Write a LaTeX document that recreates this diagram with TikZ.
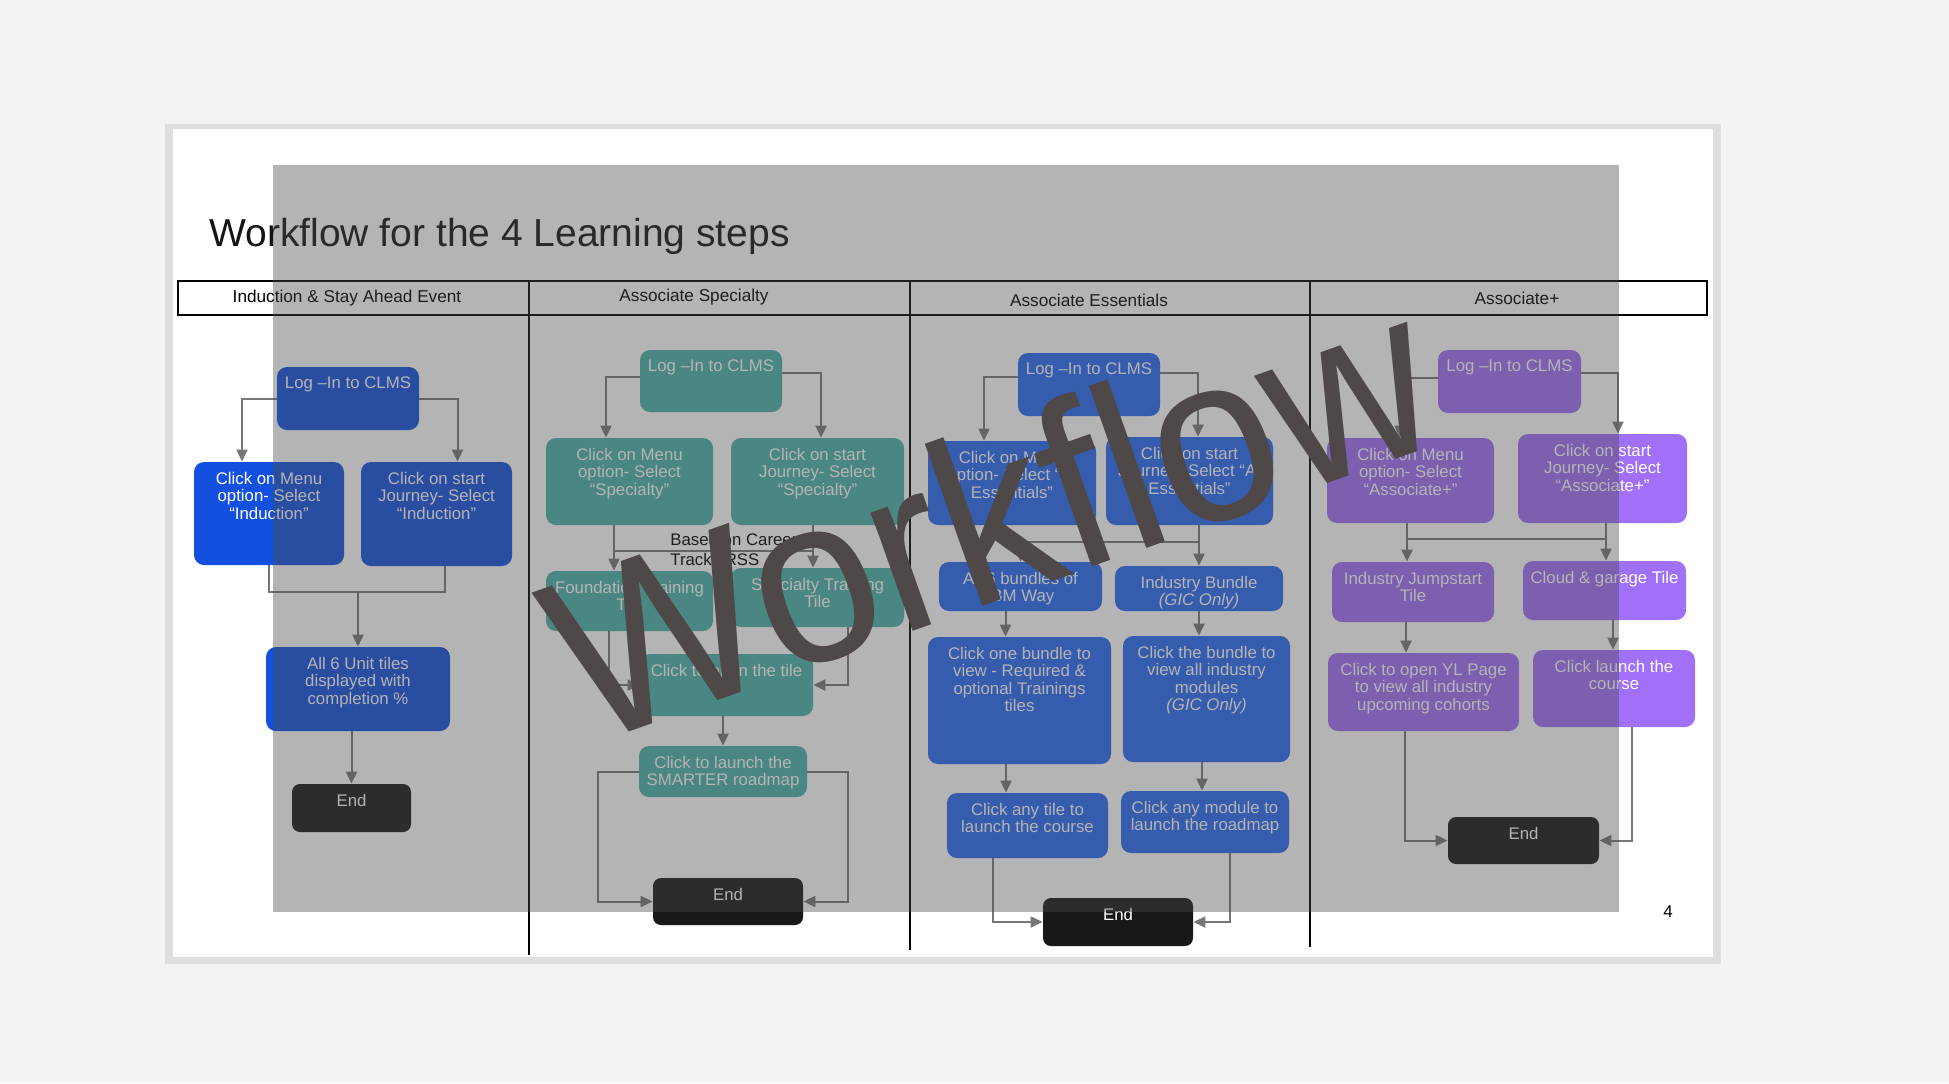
\documentclass[tikz,border=0pt]{standalone}
\usepackage{fontspec}
\setmainfont{Liberation Sans}
\usetikzlibrary{arrows.meta}
\definecolor{bgray}{HTML}{F3F3F3}
\definecolor{framegray}{HTML}{DEDEDE}
\definecolor{blueA}{HTML}{1450E0}
\definecolor{blueB}{HTML}{2A6AF5}
\definecolor{tealA}{HTML}{4DB3AA}
\definecolor{purpA}{HTML}{A070F8}
\definecolor{endgray}{HTML}{181818}
\definecolor{linkgray}{HTML}{777777}
\definecolor{ovl}{RGB}{73,73,73}
\definecolor{wmark}{HTML}{4E4848}
\tikzset{
    sz/.style 2 args={minimum width=#1*0.5pt, minimum height=#2*0.5pt},
    tile/.style={rectangle, rounded corners=5pt, inner sep=0pt},
    endbox/.style={tile, fill=endgray, rounded corners=4pt},
    tiletxt/.style={anchor=north, inner xsep=0pt, inner ysep=5pt, align=center, text=white, font=\fontsize{8.4pt}{8.8pt}\selectfont},
    lanehead/.style={inner sep=0pt, font=\fontsize{8.6pt}{10pt}\selectfont},
    notetxt/.style={inner sep=0pt, align=left, font=\fontsize{8.4pt}{10pt}\selectfont},
    link/.style={draw=linkgray, line width=1pt},
    linkarr/.style={link, -{Triangle[length=6pt,width=5.5pt]}}
}

\begin{document}
\begin{tikzpicture}[x=0.5pt, y=-0.5pt]
    \useasboundingbox (0,0) rectangle (1949,1083);
    \fill[bgray] (0,0) rectangle (1949,1083);
    \fill[framegray] (165,124) rectangle (1721,964);
    \fill[white] (173,129) rectangle (1713,957);

    % title and lanes
    \node[anchor=base west, inner sep=0pt, text=black!92, font=\fontsize{19.5pt}{24pt}\selectfont] (title) at (209,246) {Workflow for the 4 Learning steps};
    \draw[line width=0.8pt] (178,281) rectangle (1707,315);
    \draw[line width=0.8pt] (529,281) -- (529,955);
    \draw[line width=0.8pt] (910,281) -- (910,950);
    \draw[line width=0.8pt] (1310,281) -- (1310,947);
    \node[lanehead] (h1) at (347,298) {Induction \& Stay Ahead Event};
    \node[lanehead] (h2) at (694,297) {Associate Specialty};
    \node[lanehead] (h3) at (1089,300) {Associate Essentials};
    \node[lanehead] (h4) at (1517,298) {Associate+};

    % Induction
    \node[tile, fill=blueA, sz={142}{63}, label={[tiletxt, name=c1logt]north:{Log –In to CLMS}}] (c1log) at (348,398.5) {};
    \node[tile, fill=blueA, sz={150}{103}, label={[tiletxt, name=c1menut]north:{Click on Menu\\option- Select\\“Induction”}}] (c1menu) at (269,513.5) {};
    \node[tile, fill=blueA, sz={151}{104}, label={[tiletxt, name=c1startt]north:{Click on start\\Journey- Select\\“Induction”}}] (c1start) at (436.5,514) {};
    \node[tile, fill=blueA, sz={184}{84}, label={[tiletxt, name=c1unitst]north:{All 6 Unit tiles\\displayed with\\completion \%}}] (c1units) at (358,689) {};
    \node[endbox, sz={119}{48}, label={[tiletxt, name=c1endt]north:{End}}] (c1end) at (351.5,808) {};
    \draw[linkarr] (c1log.west) -| ([xshift=-13.5pt]c1menu.north);
    \draw[linkarr] (c1log.east) -| ([xshift=10.5pt]c1start.north);
    \coordinate (c1j) at (358,592);
    \draw[link] (c1menu.south) |- (c1j) -| ([xshift=4pt]c1start.south);
    \draw[linkarr] (c1j) -- (c1units);
    \draw[linkarr] (c1units.south -| c1end.north) -- (c1end.north);

    % Associate Specialty
    \node[tile, fill=tealA, sz={142}{62}, label={[tiletxt, name=c2logt]north:{Log –In to CLMS}}] (c2log) at (711,381) {};
    \node[tile, fill=tealA, sz={167}{87}, label={[tiletxt, name=c2menut]north:{Click on Menu\\option- Select\\“Specialty”}}] (c2menu) at (629.5,481.5) {};
    \node[tile, fill=tealA, sz={173}{87}, label={[tiletxt, name=c2startt]north:{Click on start\\Journey- Select\\“Specialty”}}] (c2start) at (817.5,481.5) {};
    \node[tile, fill=tealA, sz={167}{60}, label={[tiletxt, name=c2foundt]north:{Foundation Training\\Tile}}] (c2found) at (629.5,601) {};
    \node[tile, fill=tealA, sz={173}{59}, label={[tiletxt, name=c2spect]north:{Specialty Training\\Tile}}] (c2spec) at (817.5,597.5) {};
    \node[tile, fill=tealA, sz={173}{62}, label={[tiletxt, name=c2tilet]north:{Click to open the tile}}] (c2tile) at (726.5,685) {};
    \node[tile, fill=tealA, sz={168}{51}, label={[tiletxt, name=c2roadt]north:{Click to launch the\\SMARTER roadmap}}] (c2road) at (723,771.5) {};
    \node[endbox, sz={150}{47}, label={[tiletxt, name=c2endt]north:{End}}] (c2end) at (728,901.5) {};
    \node[notetxt, anchor=north west] (c2note) at (670,533) {Based on Career\\Track/JRSS};
    \draw[linkarr] ([yshift=2pt]c2log.west) -| ([xshift=-11.75pt]c2menu.north);
    \draw[linkarr] ([yshift=4pt]c2log.east) -| ([xshift=1.75pt]c2start.north);
    \draw[linkarr] ([xshift=-7.75pt]c2menu.south) -- ([xshift=-7.75pt]c2found.north);
    \draw[linkarr] ([xshift=-2.25pt]c2start.south) -- ([xshift=-2.25pt]c2spec.north);
    \coordinate (c2j) at (614,551);
    \draw[link] (c2j) -- ([xshift=-2.25pt]c2spec.north |- c2j);
    \draw[linkarr] ([xshift=-10.25pt]c2found.south) |- (c2tile.west);
    \draw[linkarr] ([xshift=15.25pt]c2spec.south) |- (c2tile.east);
    \draw[linkarr] (c2tile.south -| c2road.north) -- (c2road.north);
    \draw[linkarr] (c2road.west) -- ++(-41,0) |- (c2end.west);
    \draw[linkarr] (c2road.east) -- ++(41,0) |- (c2end.east);

    % Associate Essentials
    \node[tile, fill=blueB, sz={142}{63}, label={[tiletxt, name=c3logt]north:{Log –In to CLMS}}] (c3log) at (1089,384.5) {};
    \node[tile, fill=blueB, sz={168}{84}, label={[tiletxt, name=c3menut]north:{Click on Menu\\option- Select “A.\\Essentials”}}] (c3menu) at (1012,483) {};
    \node[tile, fill=blueB, sz={167}{88}, label={[tiletxt, name=c3startt]north:{Click on start\\Journey- Select “A.\\Essentials”}}] (c3start) at (1189.5,481) {};
    \node[tile, fill=blueB, sz={163}{49}, label={[tiletxt, name=c3ibmt]north:{All 6 bundles of\\IBM Way}}] (c3ibm) at (1020.5,586.5) {};
    \node[tile, fill=blueB, sz={168}{45}, label={[tiletxt, name=c3indt]north:{Industry Bundle\\\textit{(GIC Only)}}}] (c3ind) at (1199,588.5) {};
    \node[tile, fill=blueB, sz={183}{127}, label={[tiletxt, name=c3onet]north:{Click one bundle to\\view - Required \&\\optional Trainings\\tiles}}] (c3one) at (1019.5,700.5) {};
    \node[tile, fill=blueB, sz={167}{126}, label={[tiletxt, name=c3bundt]north:{Click the bundle to\\view all industry\\modules\\\textit{(GIC Only)}}}] (c3bund) at (1206.5,699) {};
    \node[tile, fill=blueB, sz={161}{65}, label={[tiletxt, name=c3tilet]north:{Click any tile to\\launch the course}}] (c3tile) at (1027.5,825.5) {};
    \node[tile, fill=blueB, sz={168}{62}, label={[tiletxt, name=c3modt]north:{Click any module to\\launch the roadmap}}] (c3mod) at (1205,822) {};
    \node[endbox, sz={150}{48}, label={[tiletxt, name=c3endt]north:{End}}] (c3end) at (1118,922) {};
    \draw[linkarr] ([yshift=3.75pt]c3log.west) -| ([xshift=-14pt]c3menu.north);
    \draw[linkarr] ([yshift=5.75pt]c3log.east) -| ([xshift=4.25pt]c3start.north);
    \coordinate (c3j) at (1003,542);
    \draw[link] ([xshift=-4.5pt]c3menu.south) -- (c3j) -- (c3j -| c3ind.north);
    \draw[linkarr] (c3ibm.north |- c3j) -- (c3ibm.north);
    \draw[linkarr] (c3start.south -| c3ind.north) -- (c3ind.north);
    \draw[linkarr] ([xshift=-7.5pt]c3ibm.south) -- ([xshift=-7.5pt]c3ibm.south |- c3one.north);
    \draw[linkarr] (c3ind.south) -- (c3ind.south |- c3bund.north);
    \draw[linkarr] ([xshift=-6.75pt]c3one.south) -- ([xshift=-6.75pt]c3one.south |- c3tile.north);
    \draw[linkarr] ([xshift=-2.25pt]c3bund.south) -- ([xshift=-2.25pt]c3bund.south |- c3mod.north);
    \draw[linkarr] ([xshift=-17.25pt]c3tile.south) |- (c3end.west);
    \draw[linkarr] ([xshift=12.5pt]c3mod.south) |- (c3end.east);

    % Associate+
    \node[tile, fill=purpA, sz={143}{63}, label={[tiletxt, name=c4logt]north:{Log –In to CLMS}}] (c4log) at (1509.5,381.5) {};
    \node[tile, fill=purpA, sz={167}{85}, label={[tiletxt, name=c4menut]north:{Click on Menu\\option- Select\\“Associate+”}}] (c4menu) at (1410.5,480.5) {};
    \node[tile, fill=purpA, sz={169}{89}, label={[tiletxt, name=c4startt]north:{Click on start\\Journey- Select\\“Associate+”}}] (c4start) at (1602.5,478.5) {};
    \node[tile, fill=purpA, sz={162}{60}, label={[tiletxt, name=c4jumpt]north:{Industry Jumpstart\\Tile}}] (c4jump) at (1413,592) {};
    \node[tile, fill=purpA, sz={163}{59}, label={[tiletxt, name=c4cloudt]north:{Cloud \& garage Tile}}] (c4cloud) at (1604.5,590.5) {};
    \node[tile, fill=purpA, sz={191}{78}, label={[tiletxt, name=c4ylt]north:{Click to open YL Page\\to view all industry\\upcoming cohorts}}] (c4yl) at (1423.5,692) {};
    \node[tile, fill=purpA, sz={162}{77}, label={[tiletxt, name=c4launcht]north:{Click launch the\\course}}] (c4launch) at (1614,688.5) {};
    \node[endbox, sz={151}{47}, label={[tiletxt, name=c4endt]north:{End}}] (c4end) at (1523.5,840.5) {};
    \draw[linkarr] ([yshift=1.75pt]c4log.west) -| ([xshift=-5.25pt]c4menu.north);
    \draw[linkarr] ([yshift=4.25pt]c4log.east) -| ([xshift=7.75pt]c4start.north);
    \coordinate (c4j) at (1407,539);
    \draw[linkarr] ([xshift=-1.75pt]c4menu.south) -- ([xshift=-1.75pt]c4menu.south |- c4jump.north);
    \draw[link] (c4j) -- ([xshift=1.75pt]c4start.south |- c4j);
    \draw[linkarr] ([xshift=1.75pt]c4start.south) -- ([xshift=1.75pt]c4start.south |- c4cloud.north);
    \draw[linkarr] ([xshift=-3.5pt]c4jump.south) -- ([xshift=-3.5pt]c4jump.south |- c4yl.north);
    \draw[linkarr] ([xshift=4.25pt]c4cloud.south) -- ([xshift=4.25pt]c4cloud.south |- c4launch.north);
    \draw[linkarr] ([xshift=-9.25pt]c4yl.south) |- (c4end.west);
    \draw[linkarr] ([xshift=9pt]c4launch.south) |- (c4end.east);

    \node[inner sep=0pt, font=\fontsize{8.5pt}{10pt}\selectfont] (pnum) at (1668,912) {4};

    % grey veil and watermark
    \fill[ovl, fill opacity=0.41] (273,165) rectangle (1619,912);
    \node[rotate=19.5, yscale=1.06, inner sep=0pt, text=wmark, font=\fontsize{112pt}{112pt}\selectfont] (wmk) at (989,514) {Workflow};
\end{tikzpicture}
\end{document}
